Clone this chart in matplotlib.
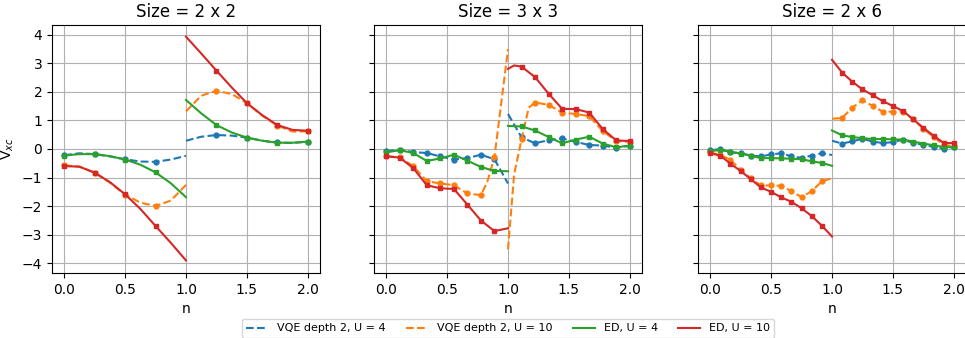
import numpy as np
import matplotlib
matplotlib.use("Agg")
import matplotlib.pyplot as plt

titles = ["Size = 2 x 2", "Size = 3 x 3", "Size = 2 x 6"]
labels = ["VQE depth 2, U = 4", "VQE depth 2, U = 10", "ED, U = 4", "ED, U = 10"]

# ---------------- Size 2 x 2 ----------------
n22_left = [0, 0.125, 0.25, 0.375, 0.5, 0.625, 0.75, 0.875, 1.0]
n22_right = [1.0, 1.125, 1.25, 1.375, 1.5, 1.625, 1.75, 1.875, 2.0]
mk22 = [0, 0.25, 0.5, 0.75, 1.25, 1.5, 1.75, 2.0]
vqe4_22_left = [-0.22, -0.15, -0.18, -0.26, -0.36, -0.44, -0.45, -0.37, -0.24]
vqe4_22_right = [0.29, 0.43, 0.49, 0.47, 0.40, 0.29, 0.23, 0.21, 0.26]
vqe10_22_left = [-0.57, -0.62, -0.83, -1.18, -1.60, -1.88, -2.00, -1.81, -1.26]
vqe10_22_right = [1.32, 1.87, 2.04, 1.93, 1.61, 1.17, 0.82, 0.61, 0.62]
ed4_22_left = [-0.23, -0.18, -0.18, -0.25, -0.37, -0.55, -0.82, -1.20, -1.69]
ed4_22_right = [1.72, 1.25, 0.84, 0.58, 0.40, 0.29, 0.22, 0.22, 0.26]
ed10_22_left = [-0.60, -0.62, -0.83, -1.16, -1.59, -2.10, -2.70, -3.29, -3.91]
ed10_22_right = [3.94, 3.35, 2.75, 2.16, 1.61, 1.19, 0.84, 0.67, 0.64]

# ---------------- Size 3 x 3 ----------------
n33_left = [0, 1/9, 2/9, 3/9, 4/9, 5/9, 6/9, 7/9, 8/9, 1.0]
n33_right = [1.0, 10/9, 11/9, 12/9, 13/9, 14/9, 15/9, 16/9, 17/9, 2.0]
mk33 = [k / 9 for k in range(19) if k != 9]
vqe4_33_left = [-0.08, -0.02, -0.11, -0.14, -0.26, -0.37, -0.32, -0.20, -0.36, -1.21]
vqe4_33_right = [1.23, 0.41, 0.20, 0.31, 0.37, 0.25, 0.14, 0.12, 0.05, 0.11]
n33_vqe10_left = [0, 1/9, 2/9, 3/9, 4/9, 5/9, 6/9, 7/9, 0.83, 8/9, 1.0]
vqe10_33_left = [-0.25, -0.29, -0.60, -1.13, -1.21, -1.27, -1.56, -1.62, -1.15, -0.28, 3.50]
n33_vqe10_right = [1.0, 1.05, 10/9, 1.17, 11/9, 12/9, 13/9, 14/9, 15/9, 16/9, 17/9, 2.0]
vqe10_33_right = [-3.52, -0.90, 0.34, 1.45, 1.63, 1.55, 1.27, 1.23, 1.15, 0.63, 0.28, 0.25]
ed4_33_left = [-0.12, -0.04, -0.14, -0.42, -0.33, -0.20, -0.41, -0.63, -0.77, -0.78]
ed4_33_right = [0.81, 0.79, 0.65, 0.42, 0.20, 0.33, 0.43, 0.19, 0.06, 0.12]
n33_ed10_right = [1.0, 1.05, 10/9, 11/9, 12/9, 13/9, 14/9, 15/9, 16/9, 17/9, 2.0]
ed10_33_left = [-0.26, -0.30, -0.67, -1.27, -1.38, -1.40, -1.95, -2.51, -2.88, -2.78]
ed10_33_right = [2.81, 2.93, 2.89, 2.52, 1.94, 1.41, 1.40, 1.28, 0.70, 0.30, 0.28]

# ---------------- Size 2 x 6 ----------------
n26_left = [k / 12 for k in range(13)]
n26_right = [k / 12 for k in range(12, 25)]
mk26 = [k / 12 for k in range(25) if k != 12]
vqe4_26_left = [-0.05, 0.0, -0.12, -0.15, -0.23, -0.26, -0.19, -0.15, -0.26, -0.31, -0.23, -0.15, -0.21]
vqe4_26_right = [0.29, 0.19, 0.27, 0.36, 0.26, 0.21, 0.24, 0.33, 0.21, 0.15, 0.07, 0.01, 0.07]
vqe10_26_left = [-0.12, -0.21, -0.38, -0.73, -1.03, -1.28, -1.28, -1.29, -1.48, -1.69, -1.48, -1.14, -1.02]
vqe10_26_right = [1.06, 1.09, 1.45, 1.71, 1.51, 1.31, 1.31, 1.31, 1.04, 0.71, 0.42, 0.15, 0.09]
ed4_26_left = [-0.07, -0.04, -0.09, -0.16, -0.23, -0.32, -0.32, -0.33, -0.34, -0.36, -0.43, -0.49, -0.59]
ed4_26_right = [0.65, 0.48, 0.42, 0.38, 0.35, 0.35, 0.34, 0.33, 0.26, 0.19, 0.13, 0.07, 0.06]
ed10_26_left = [-0.15, -0.23, -0.52, -0.77, -1.06, -1.35, -1.50, -1.70, -1.85, -2.08, -2.35, -2.69, -3.07]
ed10_26_right = [3.13, 2.68, 2.36, 2.09, 1.89, 1.68, 1.51, 1.33, 1.04, 0.74, 0.47, 0.21, 0.21]

panels = [
    {
        "marks": mk22,
        "series": [
            [(n22_left, vqe4_22_left), (n22_right, vqe4_22_right)],
            [(n22_left, vqe10_22_left), (n22_right, vqe10_22_right)],
            [(n22_left, ed4_22_left), (n22_right, ed4_22_right)],
            [(n22_left, ed10_22_left), (n22_right, ed10_22_right)],
        ],
    },
    {
        "marks": mk33,
        "series": [
            [(n33_left, vqe4_33_left), (n33_right, vqe4_33_right)],
            [(n33_vqe10_left, vqe10_33_left), (n33_vqe10_right, vqe10_33_right)],
            [(n33_left, ed4_33_left), (n33_right, ed4_33_right)],
            [(n33_left, ed10_33_left), (n33_ed10_right, ed10_33_right)],
        ],
    },
    {
        "marks": mk26,
        "series": [
            [(n26_left, vqe4_26_left), (n26_right, vqe4_26_right)],
            [(n26_left, vqe10_26_left), (n26_right, vqe10_26_right)],
            [(n26_left, ed4_26_left), (n26_right, ed4_26_right)],
            [(n26_left, ed10_26_left), (n26_right, ed10_26_right)],
        ],
    },
]

colors = ["C0", "C1", "C2", "C3"]
styles = ["--", "--", "-", "-"]
markers = ["o", "o", "s", "s"]

fig = plt.figure(figsize=(9.65, 3.38), dpi=100)
W, H = 965, 338
lefts = [52, 374, 698]
axes = []
for i, lx in enumerate(lefts):
    ax = fig.add_axes([lx / W, 1 - 273 / H, 268 / W, (273 - 25) / H],
                      sharey=axes[0] if axes else None)
    axes.append(ax)

for i, (ax, p) in enumerate(zip(axes, panels)):
    mk = np.array(p["marks"])
    for j, segs in enumerate(p["series"]):
        for s, (x, y) in enumerate(segs):
            x = np.array(x)
            y = np.array(y)
            ax.plot(x, y, linestyle=styles[j], color=colors[j], lw=1.5,
                    label=labels[j] if (i == 0 and s == 0) else None)
            sel = np.array([np.any(np.isclose(v, mk)) for v in x])
            ax.plot(x[sel], y[sel], linestyle="none", marker=markers[j],
                    color=colors[j], ms=3.5)
    ax.set_title(titles[i], fontsize=12)
    ax.set_xlabel("n")
    ax.set_xticks([0.0, 0.5, 1.0, 1.5, 2.0])
    ax.set_xlim(-0.1, 2.1)
    ax.grid(True)
    if i > 0:
        ax.tick_params(labelleft=False)

axes[0].set_ylim(-4.35, 4.35)
axes[0].set_yticks([-4, -3, -2, -1, 0, 1, 2, 3, 4])
axes[0].set_ylabel("V$_{xc}$")

handles, labs = axes[0].get_legend_handles_labels()
fig.legend(handles, labs, loc="upper center", ncol=4, fontsize=8,
           bbox_to_anchor=(508 / W, 1 - 319 / H), frameon=True,
           columnspacing=1.8, handlelength=2.0, borderaxespad=0.0)

fig.savefig("out.png", dpi=100)
